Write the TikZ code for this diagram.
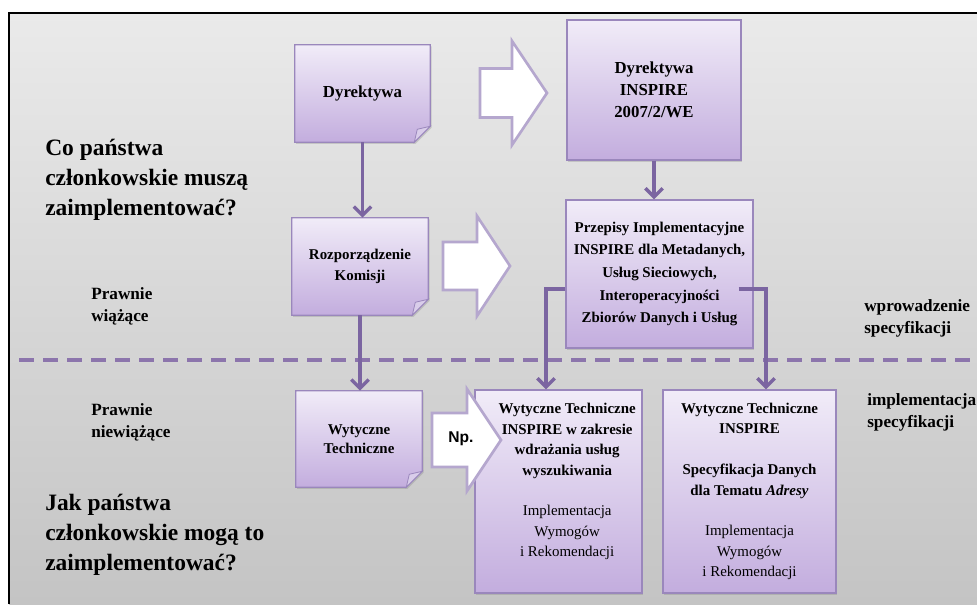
\documentclass[tikz,border=0pt]{standalone}
\usepackage{fontspec}
\setmainfont{Liberation Serif}
\newfontfamily\npfont{Liberation Sans}
\usepackage{tikz}
\usetikzlibrary{positioning, arrows.meta, calc, shadows, backgrounds}
\definecolor{bgtop}{HTML}{EAEAEA}
\definecolor{bgbot}{HTML}{C4C4C4}
\definecolor{boxtop}{HTML}{F1ECF8}
\definecolor{boxbot}{HTML}{C3ADDE}
\definecolor{boxline}{HTML}{9A87BC}
\definecolor{linkcol}{HTML}{7B65A1}
\definecolor{dashcol}{HTML}{8C75AC}
\definecolor{hollowline}{HTML}{B5A7CE}
\definecolor{flapcol}{HTML}{D9CDEA}

\begin{document}
\begin{tikzpicture}[x=0.75pt, y=-0.75pt,
    box/.style={draw=boxline, line width=0.9pt, top color=boxtop, bottom color=boxbot,
                align=center, inner sep=2pt,
                drop shadow={shadow xshift=1pt, shadow yshift=-1.2pt, opacity=0.3}},
    notebox/.style={align=center, inner sep=2pt},
    fold/.style={draw=boxline, line width=0.9pt, top color=boxtop, bottom color=boxbot,
                 drop shadow={shadow xshift=1pt, shadow yshift=-1.2pt, opacity=0.3}},
    flap/.style={fill=flapcol, draw=boxline, line width=0.6pt},
    big/.style={font=\fontsize{12.6}{16.5}\selectfont\bfseries},
    small/.style={font=\fontsize{11.2}{15.3}\selectfont\bfseries},
    ques/.style={font=\fontsize{17.6}{22.5}\selectfont\bfseries, align=left, inner sep=0pt, anchor=west},
    side/.style={font=\fontsize{12.9}{16.5}\selectfont\bfseries, align=left, inner sep=0pt, anchor=west},
    link/.style={draw=linkcol, line width=2.6pt, -{Straight Barb[length=6.5pt,width=13pt]}},
    hollow/.style={draw=hollowline, line width=2pt, fill=white, line join=miter},
    sep/.style={draw=dashcol, line width=2.6pt, dash pattern=on 11pt off 7pt},
]
\useasboundingbox (0,0) rectangle (977,604);

\node[notebox, big, minimum width=101.25pt, minimum height=72.75pt] (dir) at (362.5,93.5) {Dyrektywa};
\node[notebox, small, minimum width=102pt, minimum height=72.75pt] (rozp) at (360,266.5) {Rozporządzenie\\Komisji};
\node[notebox, small, font=\fontsize{11.2}{14.3}\selectfont\bfseries, minimum width=94.5pt, minimum height=72pt] (wyt) at (359,439) {Wytyczne\\Techniczne};

\node[box, big, minimum width=130.5pt, minimum height=105pt] (insp) at (654,90) {Dyrektywa\\INSPIRE\\2007/2/WE};
\node[box, small, font=\fontsize{11.2}{17}\selectfont\bfseries, minimum width=140.25pt, minimum height=111pt] (przep) at (659.5,274)
  {Przepisy Implementacyjne\\INSPIRE dla Metadanych,\\Usług Sieciowych,\\Interoperacyjności\\Zbiorów Danych i Usług};
\node[box, small, minimum width=125.25pt, minimum height=152.25pt] (wtsz) at (558.5,491.5)
  {\hspace*{13pt}\begin{tabular}{@{}c@{}}
   Wytyczne Techniczne\\INSPIRE w zakresie\\wdrażania usług\\wyszukiwania\\[15.3pt]
   \mdseries Implementacja\\ \mdseries Wymogów\\ \mdseries i Rekomendacji\\[15.3pt]
   \end{tabular}};
\node[box, small, minimum width=129.75pt, minimum height=152.25pt] (wtadr) at (749.5,491.5)
  {Wytyczne Techniczne\\INSPIRE\\[15.3pt]Specyfikacja Danych\\dla Tematu \textit{Adresy}\\[15.3pt]
   \mdseries Implementacja\\ \mdseries Wymogów\\ \mdseries i Rekomendacji};

\node[ques] (musza) at (45,180) {Co państwa\\członkowskie muszą\\zaimplementować?};
\node[ques] (moga) at (45,535) {Jak państwa\\członkowskie mogą to\\zaimplementować?};
\node[side] (wiaz) at (91,306) {Prawnie\\wiążące};
\node[side] (niewiaz) at (91,422) {Prawnie\\niewiążące};
\node[side] (wprow) at (864,318) {wprowadzenie\\specyfikacji};
\node[side] (impl) at (867,412) {implementacja\\specyfikacji};

\begin{pgfonlayer}{background}
  \fill[white] (0,0) rectangle (977,604);
  \shade[top color=bgtop, bottom color=bgbot] (9,13) rectangle (977,604);
  \draw[line width=1.5pt] (9,604) -- (9,13) -- (977,13);
  \foreach \n in {dir, rozp, wyt} {
    \shade[fold] (\n.north west) -- (\n.north east) -- ($(\n.south east)+(0,-16)$)
      -- ($(\n.south east)+(-16,0)$) -- (\n.south west) -- cycle;
    \filldraw[flap] ($(\n.south east)+(0,-16)$) -- ($(\n.south east)+(-13,-13)$)
      -- ($(\n.south east)+(-16,0)$) -- cycle;
  }
\end{pgfonlayer}

\draw[sep] (19,360) -- (972,360);

\draw[hollow] (480,68.5) -- (512,68.5) -- (512,41) -- (547,93) -- (512,145) -- (512,117.5) -- (480,117.5) -- cycle;
\draw[hollow] (443,242) -- (477,242) -- (477,216) -- (510,266) -- (477,316) -- (477,290) -- (443,290) -- cycle;
\draw[hollow] (432,413) -- (467,413) -- (467,389) -- (501,440) -- (467,491) -- (467,467) -- (432,467) -- cycle;
\node[font=\fontsize{11.7}{14}\selectfont\npfont\bfseries] (np) at (461,439) {Np.};

\draw[link] (dir.south) -- (dir.south |- rozp.north);
\draw[link] (rozp.south) -- (rozp.south |- wyt.north);
\draw[link] (insp.south) -- (przep.north -| insp.south);
\draw[link] ($(przep.west)+(0,15)$) -| ($(wtsz.north)+(-12.5,0)$);
\draw[link] ($(przep.east)+(-15,15)$) -| ($(wtadr.north)+(16.5,0)$);
\end{tikzpicture}
\end{document}
